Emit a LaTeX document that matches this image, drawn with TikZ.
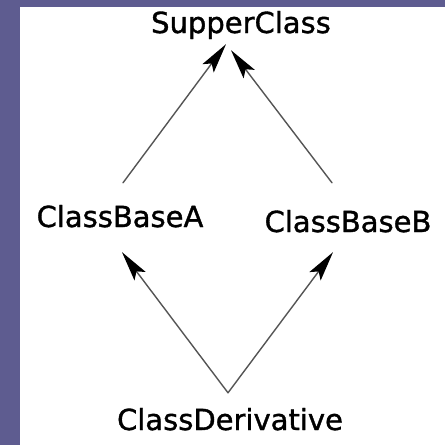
\documentclass[tikz,border=0pt]{standalone}
\usepackage{fontspec}
\setmainfont{DejaVu Sans}[FakeBold=1.2]
\usetikzlibrary{arrows.meta}
\definecolor{framecol}{RGB}{94,92,144}
\definecolor{edgecol}{RGB}{85,85,85}
\begin{document}
\begin{tikzpicture}[x=1pt,y=-1pt,
  lbl/.style={inner sep=0pt, anchor=base, font=\fontsize{29}{34}\selectfont},
  inh/.style={draw=edgecol, line width=1.4pt, line cap=round,
    -{Stealth[length=30pt,width=14pt,inset=6pt,color=black]}}]
\useasboundingbox (0,0) rectangle (445,445);
\fill[white] (0,0) rectangle (445,445);
\fill[framecol] (0,0) rectangle (445,7);
\fill[framecol] (0,0) rectangle (20,445);
\node[lbl, text depth=11pt] (s) at (241,33) {SupperClass};
\node[lbl, text height=44pt, text depth=25pt] (a) at (120,227) {ClassBaseA};
\node[lbl, text height=49pt, text depth=20pt] (b) at (348,232) {ClassBaseB};
\node[lbl, text height=37pt] (d) at (230,430) {ClassDerivative};
\draw[inh] ([xshift=3pt]a.north) -- ([xshift=-15pt]s.south);
\draw[inh] ([xshift=-16pt]b.north) -- ([xshift=-10pt,yshift=-6pt]s.south);
\draw[inh] ([xshift=-2pt]d.north) -- ([xshift=2pt]a.south);
\draw[inh] ([xshift=-2pt]d.north) -- ([xshift=-15pt]b.south);
\end{tikzpicture}
\end{document}
